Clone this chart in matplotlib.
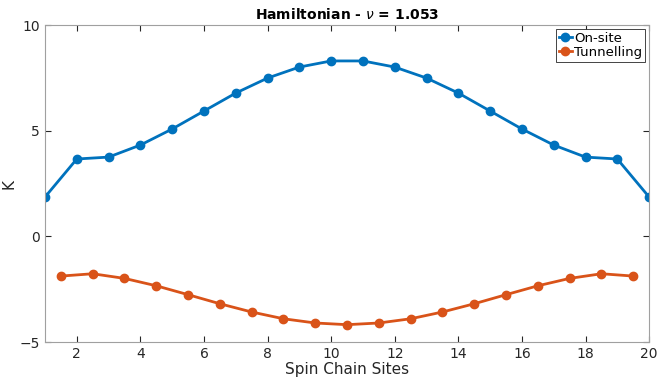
import matplotlib
matplotlib.use("Agg")
import matplotlib.pyplot as plt

# on-site energies at integer sites
sites = list(range(1, 21))
onsite = [1.86, 3.66, 3.75, 4.32, 5.08, 5.93, 6.78, 7.49, 8.01, 8.30,
          8.30, 8.01, 7.49, 6.78, 5.93, 5.08, 4.32, 3.75, 3.66, 1.86]

# tunnelling between neighbouring sites
bonds = [i + 0.5 for i in range(1, 20)]
tunnel = [-1.88, -1.77, -1.99, -2.34, -2.76, -3.19, -3.58, -3.90, -4.10, -4.18,
          -4.10, -3.90, -3.58, -3.19, -2.76, -2.34, -1.99, -1.77, -1.88]

nu = 1.053

fig = plt.figure(figsize=(6.57, 3.79), dpi=100)
ax = fig.add_axes([0.0685, 0.0976, 0.9195, 0.8364])

ax.plot(sites, onsite, color='#0072BD', lw=2, marker='o', ms=6, label='On-site')
ax.plot(bonds, tunnel, color='#D95319', lw=2, marker='o', ms=6, label='Tunnelling')

ax.set_xlim(1, 20)
ax.set_ylim(-5, 10)
ax.set_xticks(range(2, 21, 2))
ax.set_yticks([-5, 0, 5, 10])
ax.tick_params(direction='in', length=4, color='#262626', labelcolor='#262626',
               labelsize=10, top=True, right=True, labeltop=False, labelright=False)
for s in ax.spines.values():
    s.set_color('#a0a0a0')
    s.set_linewidth(0.8)

ax.set_xlabel('Spin Chain Sites', fontsize=11, color='#262626', labelpad=1)
ax.set_ylabel('K', fontsize=11, color='#262626', labelpad=2)
ax.set_title(r'Hamiltonian - $\nu$ = ' + str(nu), fontsize=10, fontweight='bold', pad=4)

leg = ax.legend(loc='upper right', fontsize=9.5, handlelength=1.0, handletextpad=0.2,
                borderpad=0.2, labelspacing=0.1, fancybox=False, borderaxespad=0.3,
                framealpha=1)
leg.get_frame().set_edgecolor('#262626')
leg.get_frame().set_linewidth(0.6)

fig.savefig('out.png', dpi=100)
